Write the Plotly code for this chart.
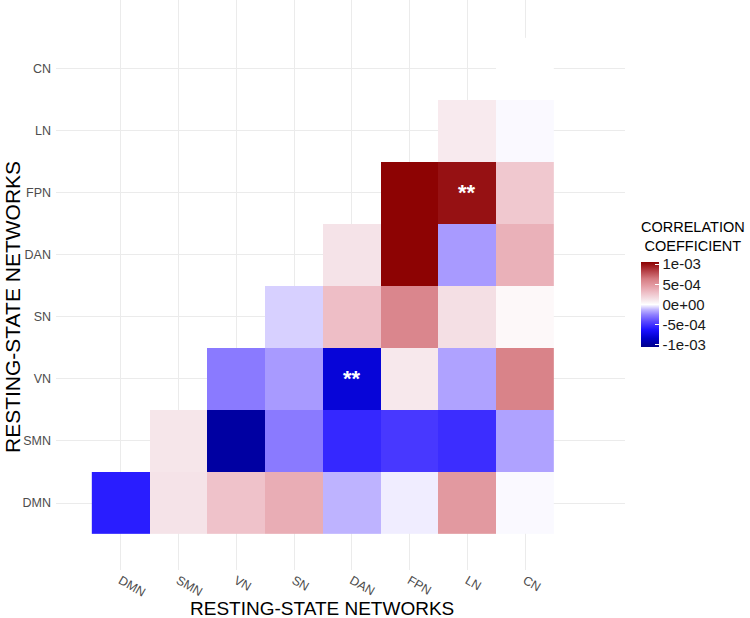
import plotly.graph_objects as go

networks = ["DMN", "SMN", "VN", "SN", "DAN", "FPN", "LN", "CN"]

# correlation coefficients, one list per row (y = network), columns follow `networks`
row_DMN = [-5.8e-4, 1.2e-4, 2.8e-4, 3.8e-4, -1.3e-4, -3e-5, 4.8e-4, -1e-5]
row_SMN = [None, 1.1e-4, -9.7e-4, -2.7e-4, -5.4e-4, -4.8e-4, -5.2e-4, -1.7e-4]
row_VN = [None, None, -2.7e-4, -1.9e-4, -7.8e-4, 1.0e-4, -1.7e-4, 6.0e-4]
row_SN = [None, None, None, -8e-5, 3.0e-4, 5.8e-4, 1.4e-4, 3e-5]
row_DAN = [None, None, None, None, 1.2e-4, 1.04e-3, -1.9e-4, 3.6e-4]
row_FPN = [None, None, None, None, None, 1.04e-3, 9.9e-4, 2.5e-4]
row_LN = [None, None, None, None, None, None, 9e-5, -1e-5]
row_CN = [None, None, None, None, None, None, None, 2e-6]

sig_x = ["LN", "DAN"]
sig_y = ["FPN", "VN"]
sig_label = ["**", "**"]

cbar_vals = [-1e-3, -5e-4, 0, 5e-4, 1e-3]
cbar_text = ["-1e-03", "-5e-04", "0e+00", "5e-04", "1e-03"]

z = [row_DMN, row_SMN, row_VN, row_SN, row_DAN, row_FPN, row_LN, row_CN]

colorscale = [
    [0.00, "#00008B"],
    [0.10, "#0000C8"],
    [0.20, "#1A10FF"],
    [0.30, "#5A48FF"],
    [0.38, "#9080FF"],
    [0.44, "#C0B5FF"],
    [0.50, "#FFFFFF"],
    [0.56, "#F5E2E7"],
    [0.64, "#EEBFC7"],
    [0.72, "#E49CA4"],
    [0.80, "#D67D83"],
    [0.90, "#B33C42"],
    [1.00, "#8B0000"],
]

FONT = "Arial, Liberation Sans, sans-serif"
L, R, T, B = 56, 125, 0, 48
W, H = 750, 618
pw, ph = W - L - R, H - T - B

def px(xp):
    return (xp - L) / pw

def py(yp):
    return (H - B - yp) / ph

fig = go.Figure()
fig.add_trace(go.Heatmap(
    x=networks, y=networks, z=z,
    zmin=-1.05e-3, zmax=1.05e-3,
    colorscale=colorscale,
    hoverongaps=False,
    colorbar=dict(
        x=px(641), xanchor="left", xpad=0,
        y=py(304.5), yanchor="middle", ypad=0,
        len=85 / ph, lenmode="fraction",
        thickness=18, outlinewidth=0,
        tickvals=cbar_vals, ticktext=cbar_text,
        ticks="inside", ticklen=4, tickcolor="white",
        tickfont=dict(family=FONT, size=15, color="#1a1a1a"),
    ),
))

for sx, sy, s in zip(sig_x, sig_y, sig_label):
    fig.add_annotation(x=sx, y=sy, text="<b>" + s + "</b>", showarrow=False,
                       font=dict(family=FONT, size=22, color="white"),
                       xanchor="center", yanchor="middle")

fig.add_annotation(xref="paper", yref="paper", x=px(322), y=py(608),
                   text="RESTING-STATE NETWORKS", showarrow=False,
                   font=dict(family=FONT, size=19, color="black"),
                   xanchor="center", yanchor="middle")
fig.add_annotation(xref="paper", yref="paper", x=px(12), y=py(307),
                   text="RESTING-STATE NETWORKS", showarrow=False, textangle=-90,
                   font=dict(family=FONT, size=21, color="black"),
                   xanchor="center", yanchor="middle")
fig.add_annotation(xref="paper", yref="paper", x=px(693), y=py(237),
                   text="CORRELATION<br>COEFFICIENT", showarrow=False,
                   font=dict(family=FONT, size=14.5, color="black"),
                   xanchor="center", yanchor="middle")

fig.update_xaxes(range=[-1.12, 8.73], showgrid=True, gridcolor="#EBEBEB", gridwidth=1,
                 zeroline=False, showline=False, ticks="", tickangle=30,
                 tickfont=dict(family=FONT, size=12.5, color="#4D4D4D"),
                 categoryorder="array", categoryarray=networks)
fig.update_yaxes(range=[-1.08, 8.11], showgrid=True, gridcolor="#EBEBEB", gridwidth=1,
                 zeroline=False, showline=False, ticks="", ticklabelstandoff=4,
                 tickfont=dict(family=FONT, size=12.5, color="#4D4D4D"),
                 categoryorder="array", categoryarray=networks)

fig.update_layout(
    width=W, height=H,
    margin=dict(l=L, r=R, t=T, b=B, autoexpand=False),
    paper_bgcolor="white", plot_bgcolor="white",
    font=dict(family=FONT),
    showlegend=False,
)

fig.write_html("out.html", config={"displayModeBar": False},
               post_script="document.body.style.margin='0';document.body.style.padding='0';document.body.style.overflow='hidden';")
